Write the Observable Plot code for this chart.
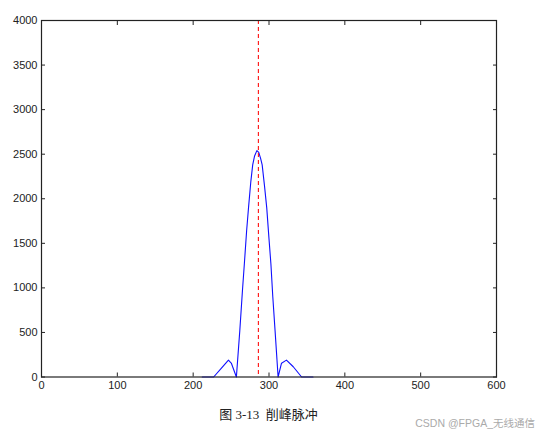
<!DOCTYPE html>
<html>
<head>
<meta charset="utf-8">
<script src="https://cdn.jsdelivr.net/npm/d3@7"></script>
<script src="https://cdn.jsdelivr.net/npm/@observablehq/plot@0.6"></script>
<style>
  html, body { margin: 0; padding: 0; background: #fff; }
  #wrap { position: relative; width: 537px; height: 433px; }
  #caption { position: absolute; left: 0; width: 537px; top: 404px; text-align: center;
    font-family: "Liberation Serif", "Noto Sans CJK SC", serif; font-size: 13px; color: #222; }
  #mark { position: absolute; right: 2px; top: 415px; font-family: "Liberation Sans", "Noto Sans CJK SC", sans-serif;
    font-size: 10.5px; color: #aaa; }
</style>
</head>
<body>
<div id="wrap">
  <div id="chart"></div>
  <div id="caption">图 3-13&nbsp;&nbsp;削峰脉冲</div>
  <div id="mark">CSDN @FPGA_无线通信</div>
</div>
<script>
const sampleX = [212, 227, 237, 246.5, 250.5, 257, 261.5, 265, 267.5, 270.5, 273, 276, 278.5, 281, 284, 286.5, 289, 291, 294, 297, 300, 302.5, 305, 308, 312, 316.5, 323, 332, 343, 358];
const sampleY = [0, 0, 97, 189, 152, 0, 520, 970, 1270, 1640, 1900, 2190, 2380, 2480, 2540, 2520, 2450, 2380, 2150, 1900, 1550, 1270, 900, 520, 0, 155, 189, 115, 0, 0];
const markerX = [286];
const xTicks = [0, 100, 200, 300, 400, 500, 600];
const yTicks = [0, 500, 1000, 1500, 2000, 2500, 3000, 3500, 4000];

const pulse = sampleX.map((x, i) => ({x, y: sampleY[i]}));
const fmt = d3.format("d");

const chart = Plot.plot({
  width: 537,
  height: 400,
  marginLeft: 41,
  marginRight: 41,
  marginTop: 20,
  marginBottom: 23.5,
  style: {fontFamily: "'Liberation Sans', Arial, sans-serif", fontSize: "11px", color: "#222", background: "#fff"},
  x: {domain: [0, 600], ticks: xTicks},
  y: {domain: [0, 4000], ticks: yTicks},
  marks: [
    Plot.line(pulse, {x: "x", y: "y", stroke: "#1010ff", strokeWidth: 1.1}),
    Plot.ruleX(markerX, {stroke: "#ff1010", strokeWidth: 1.1, strokeDasharray: "4,3"}),
    Plot.axisX(xTicks, {anchor: "bottom", tickSize: -4, tickPadding: 8, tickFormat: fmt, label: null, stroke: "#222"}),
    Plot.axisX(xTicks, {anchor: "top", tickSize: -4, fill: "none", label: null, stroke: "#222"}),
    Plot.axisY(yTicks, {anchor: "left", tickSize: -4, tickPadding: 8, tickFormat: fmt, label: null, stroke: "#222"}),
    Plot.axisY(yTicks, {anchor: "right", tickSize: -4, fill: "none", label: null, stroke: "#222"}),
    Plot.frame({stroke: "#222", strokeWidth: 1.2})
  ]
});
document.getElementById("chart").appendChild(chart);
</script>
</body>
</html>
